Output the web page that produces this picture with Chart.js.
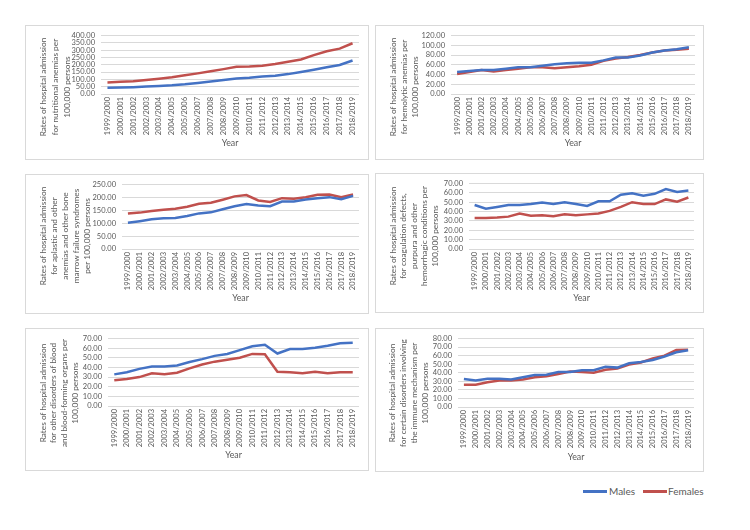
<!DOCTYPE html>
<html>
<head>
<meta charset="utf-8">
<script src="https://cdn.jsdelivr.net/npm/chart.js@4.4.1/dist/chart.umd.min.js"></script>
<style>
    body { margin: 0; background: #fff; width: 750px; height: 530px; position: relative; overflow: hidden; font-family: Lato, sans-serif; }
    canvas { position: absolute; }
    .lg-line { position: absolute; width: 24px; height: 3px; top: 490px; }
    .lg-text { position: absolute; top: 484px; font-size: 10px; line-height: 14px; color: #595959; white-space: nowrap; }
</style>
</head>
<body>
<canvas id="c1" width="344" height="135" style="left:25px;top:25px"></canvas>
<canvas id="c2" width="329" height="135" style="left:375px;top:25px"></canvas>
<canvas id="c3" width="344" height="140" style="left:25px;top:174px"></canvas>
<canvas id="c4" width="329" height="140" style="left:375px;top:173px"></canvas>
<canvas id="c5" width="344" height="143" style="left:25px;top:328px"></canvas>
<canvas id="c6" width="329" height="144" style="left:375px;top:328px"></canvas>
<div class="lg-line" style="left:583px;background:#4472c4"></div>
<div class="lg-text" style="left:609px">Males</div>
<div class="lg-line" style="left:643px;background:#c0504d"></div>
<div class="lg-text" style="left:668px">Females</div>
<script>
const years = ['1999/2000', '2000/2001', '2001/2002', '2002/2003', '2003/2004', '2004/2005',
    '2005/2006', '2006/2007', '2007/2008', '2008/2009', '2009/2010', '2010/2011', '2011/2012',
    '2012/2013', '2013/2014', '2014/2015', '2015/2016', '2016/2017', '2017/2018', '2018/2019'];

// nutritional anemias
const nutritionalMales = [42, 44, 47, 51, 55, 60, 67, 76, 86, 96, 106, 111, 120, 125, 136, 150, 166, 183, 198, 229];
const nutritionalFemales = [78, 83, 88, 96, 105, 114, 128, 141, 155, 170, 187, 188, 193, 205, 220, 236, 266, 292, 310, 347];

// hemolytic anemias
const hemolyticMales = [45, 47, 49, 49, 52, 55, 55, 58, 61, 63, 64, 64, 69, 75, 75, 79, 85, 89, 92, 96];
const hemolyticFemales = [41, 45, 49, 46, 49, 52, 55, 55, 53, 55, 57, 60, 68, 73, 76, 80, 85, 89, 91, 93];

// aplastic and other anemias
const aplasticMales = [102, 108, 115, 119, 120, 128, 138, 142, 154, 166, 174, 169, 166, 184, 184, 192, 197, 201, 193, 206];
const aplasticFemales = [138, 141, 147, 152, 156, 164, 175, 179, 191, 204, 209, 188, 182, 197, 195, 201, 210, 211, 201, 211];

// coagulation defects, purpura
const coagMales = [47, 43, 45, 47, 47, 48, 49.6, 48, 50, 48, 46, 51, 51, 58, 59.6, 57, 59, 64, 61, 62.6];
const coagFemales = [33, 33, 33.6, 34.6, 38, 35.6, 36, 35, 37, 36, 37, 38, 40.7, 45, 50, 48, 48, 53, 50.6, 55];

// other disorders of blood
const otherMales = [32.8, 35, 38.5, 41, 41, 42, 45.6, 48.6, 52, 54, 58, 62, 63.5, 54.4, 59, 59, 60.5, 62.5, 65, 65.5];
const otherFemales = [26.7, 28, 30, 34, 33, 34.5, 39, 43, 46, 48, 50, 54, 53.7, 35.5, 35, 34, 35.5, 34, 35, 35];

// immune mechanism
const immuneMales = [32.8, 31, 33, 33, 32, 34.7, 37.3, 37.7, 40.8, 41, 43, 43, 47, 46, 51, 52.6, 55, 59, 64, 66.3];
const immuneFemales = [26, 26, 29, 31, 31, 32, 34.7, 36, 38.5, 41.5, 41, 40, 43.4, 45, 49.5, 52, 56.8, 60, 66.7, 67];

const gray = '#595959';
const gridColor = '#d9d9d9';
const blue = '#4472c4';
const red = '#c0504d';
const tickSize = 7.5;
const titleSize = 8.3;

// frame + rotated multi-line y title
const panelDecor = {
    id: 'panelDecor',
    afterDraw(chart, args, opts) {
        const ctx = chart.ctx;
        ctx.save();
        ctx.strokeStyle = gridColor;
        ctx.lineWidth = 1;
        ctx.strokeRect(0.5, 0.5, chart.width - 1, chart.height - 1);
        ctx.fillStyle = gray;
        ctx.font = titleSize + 'px Lato';
        ctx.textAlign = 'center';
        ctx.textBaseline = 'middle';
        opts.lines.forEach((line, i) => {
            ctx.save();
            ctx.translate(opts.x0 + i * opts.step, opts.cy);
            ctx.rotate(-Math.PI / 2);
            ctx.fillText(line, 0, 0);
            ctx.restore();
        });
        ctx.restore();
    }
};

function makePanel(id, males, females, p) {
    const H = p.height;
    const titleLH = titleSize * 1.2;
    const scaleBottom = p.yearY + titleLH / 2;
    new Chart(document.getElementById(id), {
        type: 'line',
        data: {
            labels: years,
            datasets: [{
                label: 'Males',
                data: males,
                borderColor: blue,
                backgroundColor: blue,
                borderWidth: 2.5,
                pointRadius: 0,
                tension: 0
            }, {
                label: 'Females',
                data: females,
                borderColor: red,
                backgroundColor: red,
                borderWidth: 2.5,
                pointRadius: 0,
                tension: 0
            }]
        },
        options: {
            responsive: false,
            animation: false,
            layout: {
                padding: { left: p.left - 40, top: p.top, right: p.width - p.right, bottom: H - scaleBottom }
            },
            scales: {
                x: {
                    offset: true,
                    grid: { display: false, drawTicks: false },
                    border: { display: false },
                    ticks: { color: gray, font: { family: 'Lato', size: tickSize }, minRotation: 90, maxRotation: 90, padding: 3, autoSkip: false },
                    title: { display: true, text: 'Year', color: gray, font: { family: 'Lato', size: titleSize + 0.5 }, padding: 0 },
                    afterFit: s => { s.height = scaleBottom - p.bottom; }
                },
                y: {
                    min: 0,
                    max: p.max,
                    grid: { color: gridColor, drawTicks: false },
                    border: { display: false },
                    ticks: { stepSize: p.step, autoSkip: false, color: gray, font: { family: 'Lato', size: tickSize }, padding: 6, callback: v => v.toFixed(2) },
                    afterFit: s => { s.width = 40; }
                }
            },
            plugins: {
                legend: { display: false },
                tooltip: { enabled: false },
                panelDecor: { lines: p.lines, x0: p.x0, step: p.lstep, cy: p.cy }
            }
        },
        plugins: [panelDecor]
    });
}

makePanel('c1', nutritionalMales, nutritionalFemales, {
    width: 344, height: 135, left: 76, right: 334, top: 9, bottom: 69, yearY: 118, max: 400, step: 50,
    x0: 18, lstep: 12, cy: 62,
    lines: ['Rates of hospital admission', 'for nutritional anemias per', '100,000 persons']
});
makePanel('c2', hemolyticMales, hemolyticFemales, {
    width: 329, height: 135, left: 76, right: 320, top: 9, bottom: 69, yearY: 118, max: 120, step: 20,
    x0: 18, lstep: 11, cy: 62,
    lines: ['Rates of hospital admission', 'for hemolytic anemias per', '100,000 persons']
});
makePanel('c3', aplasticMales, aplasticFemales, {
    width: 344, height: 140, left: 97, right: 334, top: 10, bottom: 75, yearY: 124, max: 250, step: 50,
    x0: 18, lstep: 11, cy: 62,
    lines: ['Rates of hospital admission', 'for aplastic and other', 'anemias and other bone', 'marrow failure syndromes', 'per 100,000 persons']
});
makePanel('c4', coagMales, coagFemales, {
    width: 329, height: 140, left: 94, right: 319, top: 10, bottom: 76, yearY: 125, max: 70, step: 10,
    x0: 18, lstep: 10.5, cy: 63,
    lines: ['Rates of hospital admission', 'for coagulation defects,', 'purpura and other', 'hemorrhagic conditions per', '100,000 persons']
});
makePanel('c5', otherMales, otherFemales, {
    width: 344, height: 143, left: 83, right: 334, top: 9, bottom: 78, yearY: 127, max: 70, step: 10,
    x0: 18, lstep: 10.7, cy: 65,
    lines: ['Rates of hospital admission', 'for other disorders of blood', 'and blood-forming organs per', '100,000 persons']
});
makePanel('c6', immuneMales, immuneFemales, {
    width: 329, height: 144, left: 83, right: 319, top: 9, bottom: 79, yearY: 129, max: 80, step: 10,
    x0: 17, lstep: 11, cy: 65,
    lines: ['Rates of hospital admission', 'for certain disorders involving', 'the immune mechanism per', '100,000 persons']
});
</script>
</body>
</html>
